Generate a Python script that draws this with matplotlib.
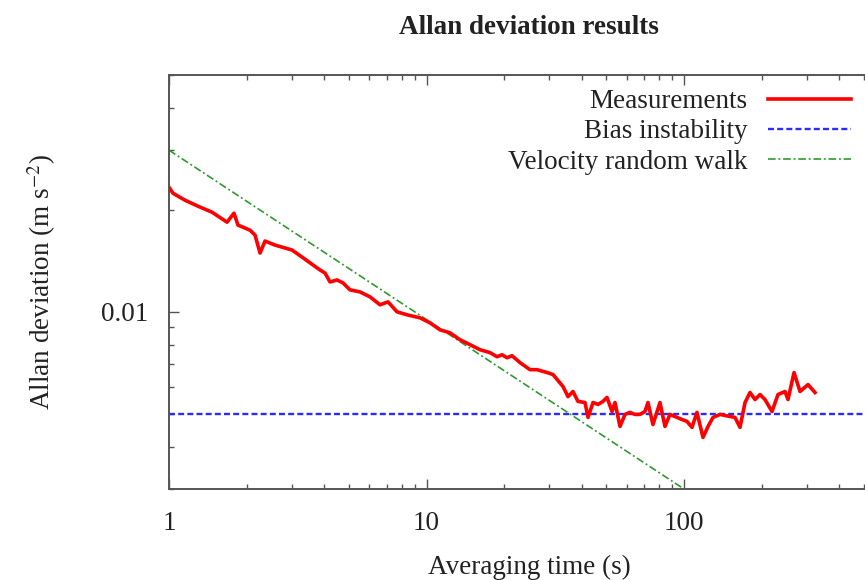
import numpy as np
import matplotlib
matplotlib.use("Agg")
import matplotlib.pyplot as plt
from matplotlib.ticker import FixedLocator, LogLocator, NullFormatter, FuncFormatter

plt.rcParams['font.family'] = ['Liberation Serif', 'DejaVu Serif']
plt.rcParams['mathtext.fontset'] = 'stix'
plt.rcParams['lines.scale_dashes'] = False

# ---- data ----
tau = [1.0, 1.036, 1.154, 1.296, 1.469, 1.680, 1.788, 1.853, 2.063, 2.158,
       2.257, 2.360, 2.580, 3.004, 3.285, 3.624, 3.858, 4.035, 4.220, 4.492,
       4.740, 5.046, 5.517, 6.033, 6.598, 7.088, 7.682, 8.402, 9.436, 10.32,
       11.28, 12.34, 13.49, 14.76, 16.13, 17.64, 18.78, 19.65, 20.54, 21.48,
       23.08, 25.23, 26.86, 29.38, 30.99, 33.89, 35.44, 37.06, 38.75, 41.26,
       42.39, 44.32, 46.34, 48.45, 50.23, 52.53, 53.95, 56.42, 58.99, 61.68,
       64.50, 67.44, 70.52, 72.45, 75.75, 80.66, 84.35, 88.20, 93.93, 98.22,
       102.7, 107.4, 112.3, 118.5, 124.0, 129.6, 138.0, 150.9, 157.8, 165.0,
       172.6, 180.4, 188.7, 197.3, 206.3, 219.6, 231.7, 246.7, 253.4, 267.5,
       282.2, 303.1, 322.6]
adev = [0.02332, 0.02239, 0.02135, 0.02050, 0.01968, 0.01839, 0.01955, 0.01803, 0.01742, 0.01685,
        0.01491, 0.01618, 0.01574, 0.01522, 0.01451, 0.01375, 0.01329, 0.01302, 0.01225, 0.01242,
        0.01217, 0.01161, 0.01145, 0.01107, 0.01049, 0.01070, 0.01000, 0.00980, 0.00960, 0.00928,
        0.00885, 0.00867, 0.00827, 0.00800, 0.00773, 0.00758, 0.00737, 0.00747, 0.00732, 0.00742,
        0.00708, 0.00675, 0.00675, 0.00662, 0.00653, 0.00602, 0.00562, 0.00582, 0.00544, 0.00540,
        0.00488, 0.00540, 0.00533, 0.00544, 0.00559, 0.00508, 0.00540, 0.00459, 0.00498, 0.00505,
        0.00498, 0.00498, 0.00508, 0.00540, 0.00465, 0.00540, 0.00459, 0.00498, 0.00488, 0.00481,
        0.00475, 0.00456, 0.00505, 0.00426, 0.00459, 0.00488, 0.00498, 0.00491, 0.00488, 0.00456,
        0.00540, 0.00578, 0.00551, 0.00570, 0.00551, 0.00508, 0.00570, 0.00582, 0.00551, 0.00662,
        0.00582, 0.00610, 0.00578]
bias_instability = 0.005
vrw_coeff = 0.03          # sigma(tau) = N / sqrt(tau)
model_tau = [1.0, 1000.0]

legend_labels = ["Measurements", "Bias instability", "Velocity random walk"]
title = "Allan deviation results"
xlabel = "Averaging time (s)"
ylabel = r"Allan deviation (m s$^{-2}$)"
xlim = (1, 1000)
ylim = (0.003, 0.05)
xmajor = [1, 10, 100]
ymajor = [0.01]

# ---- figure ----
W, H = 865, 580
fig = plt.figure(figsize=(W / 100, H / 100), dpi=100)
ax = fig.add_axes([169 / W, 91 / H, 772.5 / W, 414 / H])
ax.set_xscale('log')
ax.set_yscale('log')

txtc = '#222222'
fs = 19.5

l1, = ax.plot(tau, adev, color='#ff0000', lw=2.6, solid_joinstyle='round', zorder=3)
l2 = ax.axhline(bias_instability, color='#2b2bff', lw=1.7, linestyle=(0, (4.3, 2.3)), zorder=2)
mt = np.array(model_tau)
l3, = ax.plot(mt, vrw_coeff / np.sqrt(mt), color='#2e9a2e', lw=1.2,
              linestyle=(0, (5.5, 2.0, 1.4, 2.0)), zorder=2)

ax.set_xlim(*xlim)
ax.set_ylim(*ylim)

ax.xaxis.set_major_locator(FixedLocator(xmajor))
ax.xaxis.set_minor_locator(LogLocator(base=10, subs=np.arange(2, 10)))
ax.xaxis.set_major_formatter(FuncFormatter(lambda v, p: f"{v:g}"))
ax.xaxis.set_minor_formatter(NullFormatter())
ax.yaxis.set_major_locator(FixedLocator(ymajor))
ax.yaxis.set_minor_locator(LogLocator(base=10, subs=np.arange(2, 10)))
ax.yaxis.set_major_formatter(FuncFormatter(lambda v, p: f"{v:g}"))
ax.yaxis.set_minor_formatter(NullFormatter())

for s in ax.spines.values():
    s.set_color('#555555')
    s.set_linewidth(1.4)
ax.tick_params(which='both', direction='in', top=True, right=True, color='#555555',
               width=1.0, labelsize=fs, labelcolor=txtc)
ax.tick_params(which='major', length=7.5)
ax.tick_params(which='minor', length=3.8)
ax.tick_params(axis='x', pad=15.5)
ax.tick_params(axis='y', pad=15)

fig.text(529 / W, 1 - 28 / H, title, ha='center', va='center', fontsize=fs,
         fontweight='bold', color=txtc)
fig.text(529 / W, 1 - 567 / H, xlabel, ha='center', va='center', fontsize=fs, color=txtc)
fig.text(42 / W, 1 - 282 / H, ylabel, ha='center', va='center', fontsize=fs,
         rotation=90, color=txtc)

leg = ax.legend([l1, l2, l3], legend_labels, loc='upper right',
                bbox_to_anchor=(851 / W, 1 - 89 / H), bbox_transform=fig.transFigure,
                markerfirst=False, frameon=False, fontsize=fs, borderpad=0,
                borderaxespad=0, handlelength=3.07, handletextpad=0.74,
                labelspacing=0.2)
for t in leg.get_texts():
    t.set_color(txtc)

fig.savefig('out.png', dpi=100)
